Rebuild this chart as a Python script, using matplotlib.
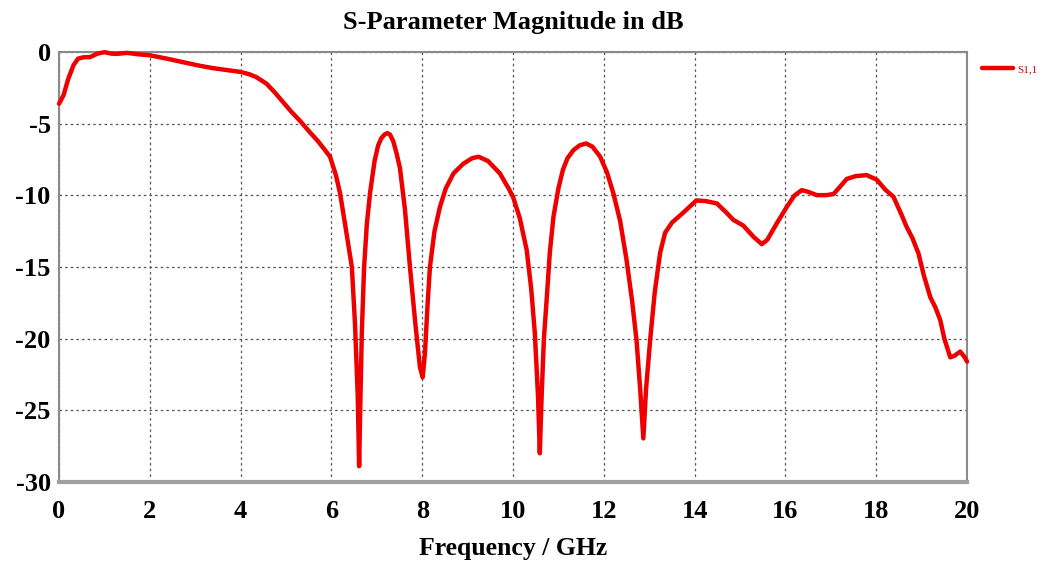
import matplotlib
matplotlib.use("Agg")
import matplotlib.pyplot as plt

plt.rcParams["axes.unicode_minus"] = False

freq_ghz = [0.0, 0.1, 0.2, 0.32, 0.42, 0.55, 0.68, 0.85, 1.0, 1.15, 1.27, 1.5, 1.75, 2.0,
            2.37, 2.81, 3.1, 3.4, 3.7, 4.0, 4.2, 4.35, 4.57, 4.75, 4.94, 5.1, 5.31, 5.5,
            5.7, 5.85, 5.97, 6.1, 6.19, 6.3, 6.45, 6.52, 6.58, 6.61, 6.64, 6.67, 6.72,
            6.78, 6.85, 6.95, 7.03, 7.1, 7.17, 7.23, 7.29, 7.36, 7.43, 7.51, 7.62, 7.73,
            7.85, 7.95, 8.01, 8.06, 8.12, 8.17, 8.27, 8.39, 8.52, 8.69, 8.9, 9.1, 9.24,
            9.45, 9.71, 9.9, 10.0, 10.15, 10.3, 10.4, 10.48, 10.55, 10.59, 10.63, 10.68,
            10.74, 10.81, 10.89, 11.0, 11.1, 11.2, 11.33, 11.47, 11.61, 11.75, 11.92,
            12.07, 12.21, 12.36, 12.5, 12.62, 12.72, 12.8, 12.87, 12.93, 13.02, 13.12,
            13.24, 13.35, 13.5, 13.75, 14.04, 14.25, 14.49, 14.7, 14.85, 15.07, 15.3,
            15.48, 15.6, 15.8, 16.03, 16.2, 16.36, 16.5, 16.69, 16.9, 17.06, 17.2, 17.35,
            17.55, 17.79, 18.01, 18.2, 18.38, 18.55, 18.67, 18.8, 18.93, 19.05, 19.19,
            19.3, 19.41, 19.5, 19.63, 19.72, 19.85, 19.95, 20.0]

s11_db = [-3.6, -3.0, -1.9, -0.9, -0.45, -0.35, -0.35, -0.1, 0.0, -0.1, -0.12, -0.05,
          -0.15, -0.22, -0.45, -0.75, -0.95, -1.12, -1.25, -1.38, -1.55, -1.75, -2.2,
          -2.8, -3.5, -4.1, -4.8, -5.5, -6.2, -6.8, -7.3, -8.6, -9.85, -12.0, -15.0,
          -19.0, -24.0, -28.9, -24.0, -19.5, -15.0, -12.0, -9.85, -7.6, -6.5, -6.0,
          -5.75, -5.65, -5.75, -6.2, -7.0, -8.1, -11.0, -15.0, -19.0, -22.0, -22.7,
          -21.0, -17.5, -15.0, -12.5, -10.8, -9.5, -8.46, -7.8, -7.4, -7.3, -7.6, -8.46,
          -9.5, -10.1, -11.6, -13.8, -16.5, -19.6, -24.0, -28.0, -24.0, -20.0, -17.3,
          -14.0, -11.5, -9.5, -8.2, -7.4, -6.84, -6.5, -6.37, -6.6, -7.3, -8.4, -9.85,
          -11.8, -14.5, -17.3, -20.1, -23.5, -26.96, -23.5, -20.1, -16.8, -14.0, -12.6,
          -11.9, -11.2, -10.35, -10.4, -10.56, -11.2, -11.7, -12.1, -12.9, -13.4, -13.1,
          -12.0, -10.8, -10.0, -9.63, -9.75, -9.98, -9.98, -9.9, -9.4, -8.85, -8.65,
          -8.58, -8.9, -9.6, -10.1, -11.3, -12.2, -13.0, -14.05, -15.6, -17.1, -17.8,
          -18.7, -20.0, -21.3, -21.2, -20.9, -21.3, -21.6]

x_ticks = [0, 2, 4, 6, 8, 10, 12, 14, 16, 18, 20]
y_ticks = [0, -5, -10, -15, -20, -25, -30]

serif = ["Liberation Serif", "DejaVu Serif"]

fig = plt.figure(figsize=(10.5, 5.67), dpi=100)
ax = fig.add_axes([0.0562, 0.150, 0.8648, 0.758])

ax.plot(freq_ghz, s11_db, color="#ee0000", linewidth=3.2, label="S1,1",
        solid_joinstyle="round", solid_capstyle="round", clip_on=False, zorder=5)

ax.set_xlim(0, 20)
ax.set_ylim(-30, 0)
ax.set_xticks(x_ticks)
ax.set_yticks(y_ticks)
ax.tick_params(axis="y", length=0, pad=6)
ax.tick_params(axis="x", length=0, pad=13)
for lab in ax.get_xticklabels() + ax.get_yticklabels():
    lab.set_fontfamily(serif)
    lab.set_fontweight("bold")
    lab.set_fontsize(19)

ax.grid(True, color="#555555", linestyle=(0, (2, 2.5)), linewidth=0.9)
for side in ["left", "right", "top"]:
    ax.spines[side].set_color("#8a8a8a")
    ax.spines[side].set_linewidth(1.5)
ax.spines["bottom"].set_color("#a0a0a0")
ax.spines["bottom"].set_linewidth(3)

ax.set_title("S-Parameter Magnitude in dB", fontfamily=serif, fontweight="bold",
             fontsize=19, pad=17)
ax.set_xlabel("Frequency / GHz", fontfamily=serif, fontweight="bold", fontsize=18.5,
              labelpad=10)

leg = ax.legend(loc="upper left", bbox_to_anchor=(1.005, 0.995), frameon=False,
                handlelength=2.8, handletextpad=0.4,
                prop={"family": serif, "size": 8})
for t in leg.get_texts():
    t.set_color("#cc0000")

fig.savefig("out.png", dpi=100)
